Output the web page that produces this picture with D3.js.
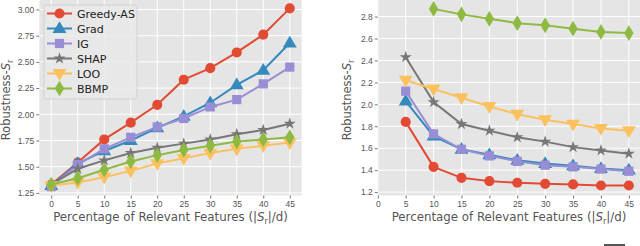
<!DOCTYPE html>
<html>
<head>
<meta charset="utf-8">
<script src="https://cdn.jsdelivr.net/npm/d3@7"></script>
<style>
  html, body { margin: 0; padding: 0; background: #fff; }
  svg { display: block; font-family: "DejaVu Sans", sans-serif; }
</style>
</head>
<body>
<svg id="chart" width="640" height="246"></svg>
<script>
// x positions (percentage of relevant features)
const xTicks = [0, 5, 10, 15, 20, 25, 30, 35, 40, 45];
const methods = ['Greedy-AS', 'Grad', 'IG', 'SHAP', 'LOO', 'BBMP'];

// left panel
const leftX = [0, 5, 10, 15, 20, 25, 30, 35, 40, 45];
const leftGreedy = [1.33, 1.54, 1.76, 1.92, 2.09, 2.33, 2.44, 2.59, 2.76, 3.01];
const leftGrad   = [1.32, 1.53, 1.65, 1.75, 1.87, 1.98, 2.11, 2.28, 2.42, 2.68];
const leftIG     = [1.31, 1.52, 1.67, 1.78, 1.88, 1.96, 2.07, 2.14, 2.29, 2.45];
const leftSHAP   = [1.33, 1.48, 1.56, 1.63, 1.68, 1.72, 1.76, 1.81, 1.85, 1.91];
const leftLOO    = [1.32, 1.35, 1.40, 1.46, 1.53, 1.58, 1.63, 1.67, 1.70, 1.73];
const leftBBMP   = [1.33, 1.39, 1.47, 1.55, 1.61, 1.66, 1.70, 1.74, 1.76, 1.78];
const leftYTicks = [1.25, 1.50, 1.75, 2.00, 2.25, 2.50, 2.75, 3.00];

// right panel
const rightX = [5, 10, 15, 20, 25, 30, 35, 40, 45];
const rightBBMPX = [10, 15, 20, 25, 30, 35, 40, 45];
const rightGreedy = [1.84, 1.43, 1.33, 1.30, 1.285, 1.275, 1.27, 1.26, 1.26];
const rightGrad   = [2.03, 1.71, 1.59, 1.54, 1.49, 1.46, 1.44, 1.415, 1.40];
const rightIG     = [2.12, 1.73, 1.59, 1.53, 1.48, 1.445, 1.43, 1.41, 1.39];
const rightSHAP   = [2.43, 2.02, 1.82, 1.76, 1.70, 1.66, 1.61, 1.58, 1.55];
const rightLOO    = [2.22, 2.14, 2.06, 1.98, 1.91, 1.86, 1.82, 1.78, 1.76];
const rightBBMP   = [2.87, 2.82, 2.78, 2.74, 2.72, 2.69, 2.66, 2.65];
const rightYTicks = [1.2, 1.4, 1.6, 1.8, 2.0, 2.2, 2.4, 2.6, 2.8];

const colors = {
    'Greedy-AS': '#E24A33', 'Grad': '#348ABD', 'IG': '#988ED5',
    'SHAP': '#777777', 'LOO': '#FBC15E', 'BBMP': '#8EBA42'
};

// thin diamond like matplotlib 'd'
const thinDiamond = {
    draw(ctx, size) {
        const h = Math.sqrt(size) * 0.75, w = h * 0.6;
        ctx.moveTo(0, -h); ctx.lineTo(w, 0); ctx.lineTo(0, h); ctx.lineTo(-w, 0); ctx.closePath();
    }
};
const triDown = {
    draw(ctx, size) {
        const r = Math.sqrt(size / 1.3);
        ctx.moveTo(0, r); ctx.lineTo(r * 0.95, -r * 0.6); ctx.lineTo(-r * 0.95, -r * 0.6); ctx.closePath();
    }
};
const triUp = {
    draw(ctx, size) {
        const r = Math.sqrt(size / 1.3);
        ctx.moveTo(0, -r); ctx.lineTo(r * 0.95, r * 0.6); ctx.lineTo(-r * 0.95, r * 0.6); ctx.closePath();
    }
};
const markers = {
    'Greedy-AS': [d3.symbolCircle, 80],
    'Grad': [triUp, 70],
    'IG': [d3.symbolSquare, 85],
    'SHAP': [d3.symbolStar, 45],
    'LOO': [triDown, 70],
    'BBMP': [thinDiamond, 110]
};

const svg = d3.select('#chart');

function panel(opts) {
    const x = d3.scaleLinear().domain(opts.xDomain).range(opts.xRange);
    const y = d3.scaleLinear().domain(opts.yDomain).range([195.5, opts.yTop]);
    const g = svg.append('g');

    g.append('rect')
        .attr('x', opts.xRange[0]).attr('y', 0)
        .attr('width', opts.xRange[1] - opts.xRange[0]).attr('height', 195.5)
        .attr('fill', '#E5E5E5');

    // grid
    g.selectAll('.vg').data(xTicks).join('line')
        .attr('x1', d => x(d)).attr('x2', d => x(d))
        .attr('y1', 0).attr('y2', 195.5)
        .attr('stroke', '#fff').attr('stroke-width', 1);
    g.selectAll('.hg').data(opts.yTicks).join('line')
        .attr('x1', opts.xRange[0]).attr('x2', opts.xRange[1])
        .attr('y1', d => y(d)).attr('y2', d => y(d))
        .attr('stroke', '#fff').attr('stroke-width', 1);

    // axes
    const xAxis = d3.axisBottom(x).tickValues(xTicks).tickSize(3).tickPadding(2);
    const yAxis = d3.axisLeft(y).tickValues(opts.yTicks).tickSize(3).tickPadding(2)
        .tickFormat(d3.format(opts.yFormat));
    const gx = g.append('g').attr('transform', 'translate(0,195.5)').call(xAxis);
    const gy = g.append('g').attr('transform', `translate(${opts.xRange[0]},0)`).call(yAxis);
    [gx, gy].forEach(a => {
        a.select('.domain').remove();
        a.selectAll('line').attr('stroke', '#777');
        a.selectAll('text').attr('fill', '#555').style('font-size', '8.5px');
    });

    // series
    opts.series.forEach(s => {
        const pts = s.xs.map((v, i) => [x(v), y(s.ys[i])]);
        g.append('path')
            .attr('d', d3.line()(pts))
            .attr('fill', 'none')
            .attr('stroke', colors[s.name])
            .attr('stroke-width', 2);
        const [type, size] = markers[s.name];
        g.selectAll(null).data(pts).join('path')
            .attr('transform', d => `translate(${d[0]},${d[1]})`)
            .attr('d', d3.symbol(type, size))
            .attr('fill', colors[s.name]);
    });

    // axis labels
    const xl = g.append('text')
        .attr('x', opts.xLabelX).attr('y', 221)
        .attr('text-anchor', 'middle')
        .attr('fill', '#555')
        .style('font-size', '11.8px');
    xl.append('tspan').text('Percentage of Relevant Features (|');
    xl.append('tspan').attr('font-style', 'italic').text('S');
    xl.append('tspan').attr('dy', 2.5).style('font-size', '8px').text('r');
    xl.append('tspan').attr('dy', -2.5).text('|/d)');

    const yl = g.append('text')
        .attr('transform', `translate(${opts.yLabelX},100) rotate(-90)`)
        .attr('text-anchor', 'middle')
        .attr('fill', '#555')
        .style('font-size', '11.5px');
    yl.append('tspan').text('Robustness-');
    yl.append('tspan').attr('font-style', 'italic').text('S');
    yl.append('tspan').attr('dy', 2.5).style('font-size', '8px').text('r');

    return { x, y, g };
}

panel({
    xDomain: [-2.25, 47.25], xRange: [39.3, 301.7],
    yDomain: [1.225, 3.095], yTop: -0.5, yTicks: leftYTicks, yFormat: '.2f',
    xLabelX: 170.5, yLabelX: 10,
    series: [
        { name: 'Greedy-AS', xs: leftX, ys: leftGreedy },
        { name: 'Grad', xs: leftX, ys: leftGrad },
        { name: 'IG', xs: leftX, ys: leftIG },
        { name: 'SHAP', xs: leftX, ys: leftSHAP },
        { name: 'LOO', xs: leftX, ys: leftLOO },
        { name: 'BBMP', xs: leftX, ys: leftBBMP }
    ]
});

panel({
    xDomain: [0, 47], xRange: [377.8, 640],
    yDomain: [1.169, 2.951], yTop: 0, yTicks: rightYTicks, yFormat: '.1f',
    xLabelX: 509, yLabelX: 351,
    series: [
        { name: 'Greedy-AS', xs: rightX, ys: rightGreedy },
        { name: 'Grad', xs: rightX, ys: rightGrad },
        { name: 'IG', xs: rightX, ys: rightIG },
        { name: 'SHAP', xs: rightX, ys: rightSHAP },
        { name: 'LOO', xs: rightX, ys: rightLOO },
        { name: 'BBMP', xs: rightBBMPX, ys: rightBBMP }
    ]
});

// legend (left panel)
const legend = svg.append('g').attr('transform', 'translate(44,5)');
legend.append('rect')
    .attr('width', 93).attr('height', 94).attr('rx', 2)
    .attr('fill', '#E9E9E9').attr('fill-opacity', 0.85)
    .attr('stroke', '#CCCCCC').attr('stroke-width', 0.8);
methods.forEach((m, i) => {
    const cy = 8.5 + i * 15;
    legend.append('line')
        .attr('x1', 3).attr('x2', 28).attr('y1', cy).attr('y2', cy)
        .attr('stroke', colors[m]).attr('stroke-width', 2);
    const [type, size] = markers[m];
    legend.append('path')
        .attr('transform', `translate(15.5,${cy})`)
        .attr('d', d3.symbol(type, size))
        .attr('fill', colors[m]);
    legend.append('text')
        .attr('x', 33).attr('y', cy + 4)
        .attr('fill', '#222')
        .style('font-size', '11px')
        .text(m);
});

// small mark cut at the bottom edge
svg.append('rect')
    .attr('x', 604).attr('y', 244).attr('width', 21).attr('height', 2)
    .attr('fill', '#555');
</script>
</body>
</html>
